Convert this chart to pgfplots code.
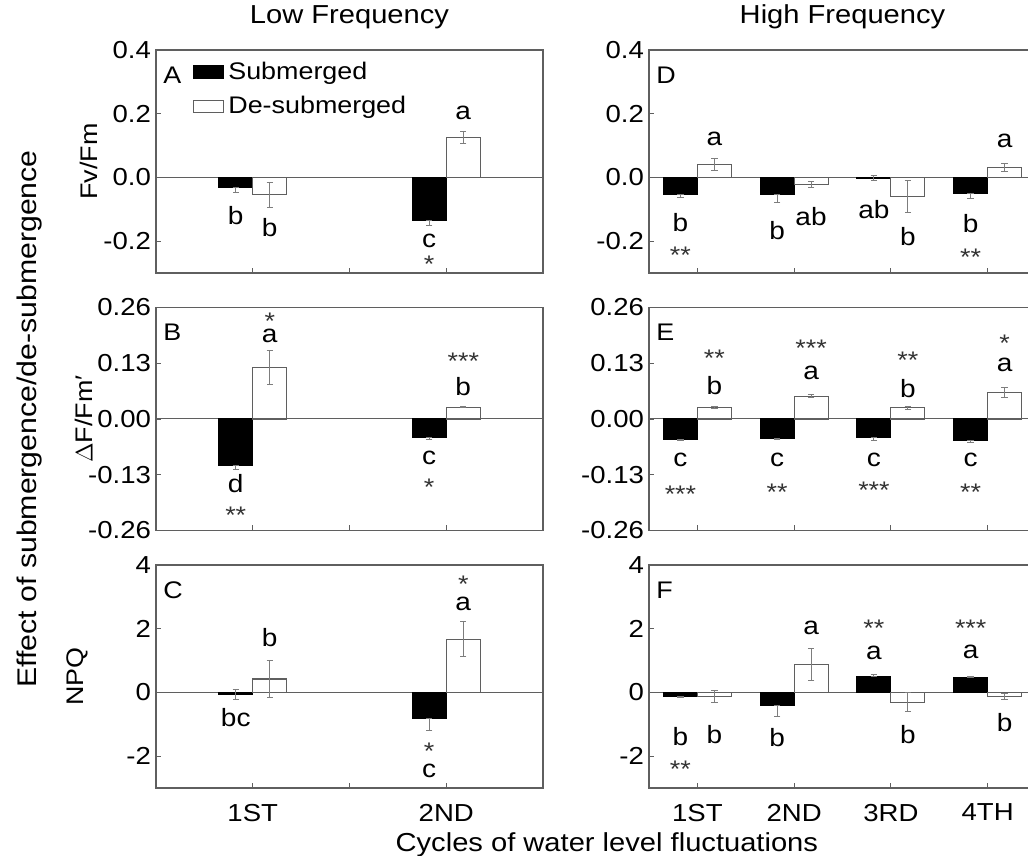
\documentclass[border=0pt]{standalone}
\usepackage{pgfplots}
\pgfplotsset{compat=1.18}
\usepackage{pgfplotstable}
\usepackage{fontspec}
\setmainfont{Liberation Sans}[FakeStretch=1.12]

\definecolor{frame}{RGB}{95,95,95}
\definecolor{errc}{RGB}{125,125,125}

% columns: cycle, submerged value, its +/- error, de-submerged value, its +/- error
\pgfplotstableread{
x sub subp subm des desp desm
1 -0.031 0 0.016 -0.054 0.039 0.039
2 -0.135 0 0.016 0.125 0.019 0.019
}\tabA
\pgfplotstableread{
x sub subp subm des desp desm
1 -0.109 0 0.0086 0.120 0.039 0.039
2 -0.0435 0 0.004 0.027 0.001 0.001
}\tabB
\pgfplotstableread{
x sub subp subm des desp desm
1 -0.07 0.15 0.15 0.42 0.59 0.59
2 -0.82 0 0.36 1.67 0.55 0.55
}\tabC
\pgfplotstableread{
x sub subp subm des desp desm
1 -0.054 0 0.010 0.040 0.018 0.018
2 -0.055 0 0.025 -0.023 0.010 0.010
3 -0.002 0.009 0.009 -0.060 0.049 0.049
4 -0.052 0 0.014 0.031 0.012 0.012
}\tabD
\pgfplotstableread{
x sub subp subm des desp desm
1 -0.047 0 0.003 0.026 0.002 0.002
2 -0.0465 0 0.002 0.053 0.004 0.004
3 -0.044 0 0.005 0.026 0.003 0.003
4 -0.049 0 0.005 0.062 0.012 0.012
}\tabE
\pgfplotstableread{
x sub subp subm des desp desm
1 -0.115 0 0.03 -0.125 0.2 0.2
2 -0.42 0 0.33 0.875 0.5 0.5
3 0.50 0.07 0 -0.31 0.3 0.3
4 0.47 0.02 0 -0.13 0.09 0.09
}\tabF

% asterisks sit high in the font: lower them so the node centre is the glyph centre
\newcommand\stars[1]{\raisebox{-6.9pt}[1.7pt][1.7pt]{#1}}

\pgfplotsset{
  panel/.style={
    scale only axis, width=193.5pt, height=111.5pt, anchor=south west,
    clip=false,
    ybar=0pt, bar width=17pt,
    axis line style={frame, line width=0.6pt},
    tick align=inside, tick style={frame, line width=0.6pt},
    major tick length=2.5pt, minor tick length=2.5pt,
    xtick pos=bottom, ytick pos=left,
    xticklabels={},
    /pgf/number format/assume math mode=true,
    tick label style={font=\fontsize{12.3}{14}\selectfont},
    yticklabel style={xshift=1pt},
    xticklabel style={yshift=-4.5pt},
    label style={font=\fontsize{12}{14}\selectfont},
    title style={font=\fontsize{13}{15}\selectfont, at={(axis description cs:0.5,1)}, anchor=center, yshift=10.5pt},
  },
  lowf/.style={xmin=0.5, xmax=2.5, xtick={1,2}, minor xtick={1.5}},
  highf/.style={xmin=0.5, xmax=4.5, xtick={1,2,3,4}},
  rowA/.style={ymin=-0.3, ymax=0.4, ytick={-0.2,0,0.2,0.4},
    yticklabel style={/pgf/number format/fixed, /pgf/number format/fixed zerofill, /pgf/number format/precision=1}},
  rowB/.style={ymin=-0.26, ymax=0.26, ytick={-0.26,-0.13,0,0.13,0.26},
    yticklabel style={/pgf/number format/fixed, /pgf/number format/fixed zerofill, /pgf/number format/precision=2}},
  rowC/.style={ymin=-3, ymax=4, ytick={-2,0,2,4}},
  subbar/.style={fill=black, draw=black, line width=0.5pt,
    error bars/.cd, y dir=both, y explicit,
    error bar style={errc, line width=0.5pt},
    error mark options={errc, mark size=1.6pt, line width=0.5pt, rotate=90}},
  desbar/.style={fill=white, draw=frame, line width=0.6pt,
    error bars/.cd, y dir=both, y explicit,
    error bar style={errc, line width=0.5pt},
    error mark options={errc, mark size=1.6pt, line width=0.5pt, rotate=90}},
}
\tikzset{
  lt/.style={font=\fontsize{12.5}{14}\selectfont, inner sep=0pt},
  st/.style={font=\fontsize{12}{14}\selectfont, text=black!80, inner sep=0pt},
  pl/.style={font=\fontsize{12}{14}\selectfont, anchor=west, inner sep=0pt},
}

\begin{document}
\begin{tikzpicture}

% ---------- Low frequency, A
\begin{axis}[panel, lowf, rowA, at={(78pt,291.5pt)},
  title={Low Frequency},
  ylabel={Fv/Fm},
  ylabel style={at={(axis description cs:-0.132,0.5)}, anchor=south},
  legend style={at={(axis description cs:0.095,0.967)}, anchor=north west,
    draw=none, fill=none, font=\fontsize{12}{14}\selectfont,
    row sep=3pt, inner sep=0pt},
  legend cell align=left,
  legend image code/.code={\draw[#1, line width=0.6pt] (0pt,-3pt) rectangle (15pt,3pt);},
]
\draw[frame, line width=0.5pt] (axis cs:0.5,0) -- (axis cs:2.5,0);
\addplot[subbar] table[x=x, y=sub, y error plus=subp, y error minus=subm] {\tabA};
\addlegendentry{Submerged}
\addplot[desbar] table[x=x, y=des, y error plus=desp, y error minus=desm] {\tabA};
\addlegendentry{De-submerged}
\node[pl] at (axis description cs:0.018,0.888) {A};
\node[lt] at (axis cs:0.912,-0.120) {b};
\node[lt] at (axis cs:1.088,-0.157) {b};
\node[lt] at (axis cs:1.912,-0.198) {c};
\node[st] at (axis cs:1.912,-0.256) {\stars{*}};
\node[lt] at (axis cs:2.088,0.202) {a};
\end{axis}

% ---------- Low frequency, B
\begin{axis}[panel, lowf, rowB, at={(78pt,162.75pt)},
  ylabel={$\Delta$F/Fm′},
  ylabel style={at={(axis description cs:-0.145,0.5)}, anchor=south},
]
\draw[frame, line width=0.5pt] (axis cs:0.5,0) -- (axis cs:2.5,0);
\addplot[subbar] table[x=x, y=sub, y error plus=subp, y error minus=subm] {\tabB};
\addplot[desbar] table[x=x, y=des, y error plus=desp, y error minus=desm] {\tabB};
\node[pl] at (axis description cs:0.018,0.888) {B};
\node[font=\fontsize{13.5}{15}\selectfont, rotate=90] at (axis description cs:-0.326,0.5) {Effect of submergence/de-submergence};
\node[lt] at (axis cs:0.912,-0.151) {d};
\node[st] at (axis cs:0.912,-0.212) {\stars{**}};
\node[lt] at (axis cs:1.088,0.194) {a};
\node[st] at (axis cs:1.088,0.240) {\stars{*}};
\node[lt] at (axis cs:1.912,-0.091) {c};
\node[st] at (axis cs:1.912,-0.147) {\stars{*}};
\node[lt] at (axis cs:2.088,0.075) {b};
\node[st] at (axis cs:2.088,0.147) {\stars{***}};
\end{axis}

% ---------- Low frequency, C
\begin{axis}[panel, lowf, rowC, at={(78pt,34pt)},
  xticklabels={1ST,2ND},
  ylabel={NPQ},
  ylabel style={at={(axis description cs:-0.157,0.5)}, anchor=south},
  xlabel={Cycles of water level fluctuations},
  xlabel style={font=\fontsize{13}{15}\selectfont, at={(axis description cs:1.165,-0.256)}, anchor=center},
]
\draw[frame, line width=0.5pt] (axis cs:0.5,0) -- (axis cs:2.5,0);
\addplot[subbar] table[x=x, y=sub, y error plus=subp, y error minus=subm] {\tabC};
\addplot[desbar] table[x=x, y=des, y error plus=desp, y error minus=desm] {\tabC};
\node[pl] at (axis description cs:0.018,0.888) {C};
\node[lt] at (axis cs:0.912,-0.79) {bc};
\node[lt] at (axis cs:1.088,1.71) {b};
\node[st] at (axis cs:1.912,-1.67) {\stars{*}};
\node[lt] at (axis cs:1.912,-2.45) {c};
\node[lt] at (axis cs:2.088,2.78) {a};
\node[st] at (axis cs:2.088,3.57) {\stars{*}};
\end{axis}

% ---------- High frequency, D
\begin{axis}[panel, highf, rowA, at={(324.5pt,291.5pt)},
  title={High Frequency},
]
\draw[frame, line width=0.5pt] (axis cs:0.5,0) -- (axis cs:4.5,0);
\addplot[subbar] table[x=x, y=sub, y error plus=subp, y error minus=subm] {\tabD};
\addplot[desbar] table[x=x, y=des, y error plus=desp, y error minus=desm] {\tabD};
\node[pl] at (axis description cs:0.018,0.888) {D};
\node[lt] at (axis cs:0.825,-0.142) {b};
\node[st] at (axis cs:0.825,-0.226) {\stars{**}};
\node[lt] at (axis cs:1.175,0.121) {a};
\node[lt] at (axis cs:1.825,-0.167) {b};
\node[lt] at (axis cs:2.175,-0.123) {ab};
\node[lt] at (axis cs:2.825,-0.101) {ab};
\node[lt] at (axis cs:3.175,-0.185) {b};
\node[lt] at (axis cs:3.825,-0.145) {b};
\node[st] at (axis cs:3.825,-0.232) {\stars{**}};
\node[lt] at (axis cs:4.175,0.115) {a};
\end{axis}

% ---------- High frequency, E
\begin{axis}[panel, highf, rowB, at={(324.5pt,162.75pt)}]
\draw[frame, line width=0.5pt] (axis cs:0.5,0) -- (axis cs:4.5,0);
\addplot[subbar] table[x=x, y=sub, y error plus=subp, y error minus=subm] {\tabE};
\addplot[desbar] table[x=x, y=des, y error plus=desp, y error minus=desm] {\tabE};
\node[pl] at (axis description cs:0.018,0.888) {E};
\node[lt] at (axis cs:0.825,-0.096) {c};
\node[st] at (axis cs:0.825,-0.163) {\stars{***}};
\node[lt] at (axis cs:1.175,0.079) {b};
\node[st] at (axis cs:1.175,0.154) {\stars{**}};
\node[lt] at (axis cs:1.825,-0.096) {c};
\node[st] at (axis cs:1.825,-0.158) {\stars{**}};
\node[lt] at (axis cs:2.175,0.107) {a};
\node[st] at (axis cs:2.175,0.177) {\stars{***}};
\node[lt] at (axis cs:2.825,-0.096) {c};
\node[st] at (axis cs:2.825,-0.154) {\stars{***}};
\node[lt] at (axis cs:3.175,0.072) {b};
\node[st] at (axis cs:3.175,0.151) {\stars{**}};
\node[lt] at (axis cs:3.825,-0.096) {c};
\node[st] at (axis cs:3.825,-0.158) {\stars{**}};
\node[lt] at (axis cs:4.175,0.126) {a};
\node[st] at (axis cs:4.175,0.189) {\stars{*}};
\end{axis}

% ---------- High frequency, F
\begin{axis}[panel, highf, rowC, at={(324.5pt,34pt)},
  xticklabels={1ST,2ND,3RD,4TH},
]
\draw[frame, line width=0.5pt] (axis cs:0.5,0) -- (axis cs:4.5,0);
\addplot[subbar] table[x=x, y=sub, y error plus=subp, y error minus=subm] {\tabF};
\addplot[desbar] table[x=x, y=des, y error plus=desp, y error minus=desm] {\tabF};
\node[pl] at (axis description cs:0.018,0.888) {F};
\node[lt] at (axis cs:0.825,-1.38) {b};
\node[st] at (axis cs:0.825,-2.23) {\stars{**}};
\node[lt] at (axis cs:1.175,-1.32) {b};
\node[lt] at (axis cs:1.825,-1.42) {b};
\node[lt] at (axis cs:2.175,2.02) {a};
\node[lt] at (axis cs:2.825,1.24) {a};
\node[st] at (axis cs:2.825,2.18) {\stars{**}};
\node[lt] at (axis cs:3.175,-1.32) {b};
\node[lt] at (axis cs:3.825,1.27) {a};
\node[st] at (axis cs:3.825,2.18) {\stars{***}};
\node[lt] at (axis cs:4.175,-0.95) {b};
\end{axis}

\pgfresetboundingbox
\path[use as bounding box] (0pt,0pt) rectangle (514pt,428pt);
\end{tikzpicture}
\end{document}
